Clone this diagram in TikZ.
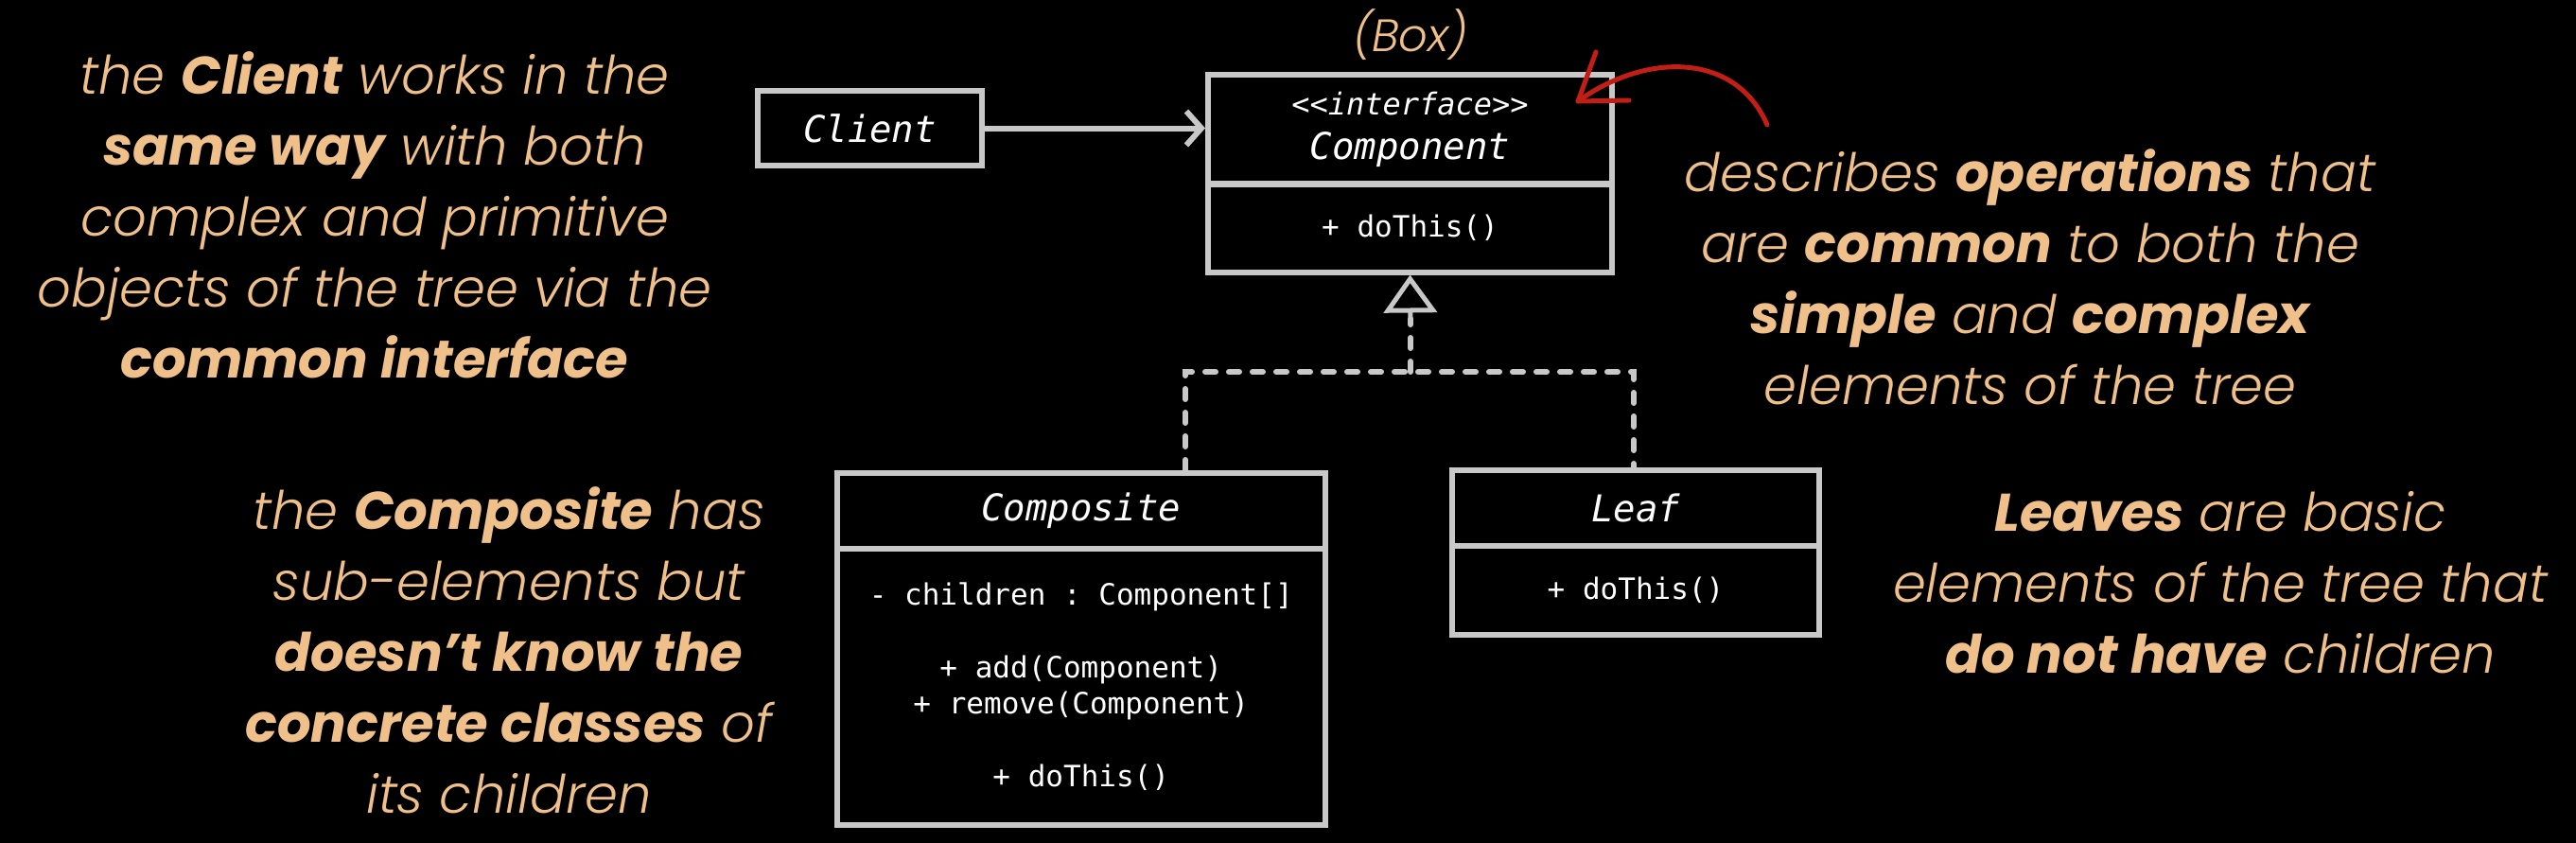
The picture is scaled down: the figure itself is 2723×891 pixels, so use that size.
\documentclass[tikz,border=0pt]{standalone}
\usepackage{fontspec}
\setmainfont{Poppins}[UprightFont={* Light}, ItalicFont={* Light Italic}, BoldFont={* Bold}, BoldItalicFont={* Bold Italic}]
\newfontfamily\codefont{DejaVu Sans Mono}[ItalicFont={DejaVu Sans Mono Oblique}]
\usetikzlibrary{arrows.meta}
\definecolor{note}{HTML}{F0C08A}
\definecolor{umlgray}{HTML}{C8C8C8}
\definecolor{redpen}{HTML}{C21E16}
\newcommand\nb[1]{{\bfseries #1}}
\begin{document}
\begin{tikzpicture}[x=1pt,y=-1pt,
  umlbox/.style={draw=umlgray, line width=6pt, inner sep=0pt, text=white, align=center},
  classname/.style={font=\codefont\itshape\fontsize{39}{47}\selectfont},
  member/.style={font=\codefont\frenchspacing\fontsize{31}{38.5}\selectfont},
  notetext/.style={text=note, align=center, font=\itshape\fontsize{56}{75}\selectfont},
  dashedline/.style={draw=umlgray, line width=6pt, dash pattern=on 11pt off 14pt, line cap=round},
  solidline/.style={draw=umlgray, line width=6pt},
  redline/.style={draw=redpen, line width=5pt, line cap=round, line join=round},
]
\fill[black] (0,0) rectangle (2723,891);
\useasboundingbox (0,0) rectangle (2723,891);

% classes
\node[umlbox, classname, minimum width=237pt, minimum height=79pt] (client) at (919.5,135.5) {Client};

\node[umlbox, classname, minimum width=427pt, minimum height=115pt] (comphead) at (1490.5,137)
  {{\fontsize{32}{47}\selectfont <<interface>>}\\Component};
\node[umlbox, member, minimum width=427pt, minimum height=94pt] (compbody) at (1490.5,240.5) {+ doThis()};

\node[umlbox, classname, minimum width=516.5pt, minimum height=80pt] (cmphead) at (1142.75,540) {Composite};
\node[umlbox, member, minimum width=516.5pt, minimum height=291.5pt] (cmpbody) at (1142.75,725.75)
  {- children : Component[]\\[38.5pt]+ add(Component)\\+ remove(Component)\\[38.5pt]+ doThis()};

\node[umlbox, classname, minimum width=388pt, minimum height=80pt] (leafhead) at (1729,537) {Leaf};
\node[umlbox, member, minimum width=388pt, minimum height=93.5pt] (leafbody) at (1729,623.75) {+ doThis()};

% association
\draw[solidline, -{Straight Barb[length=16pt,width=36pt]}] (client.east) -- (comphead.west |- client.east);

% realization
\coordinate (junc) at (1491,393);
\coordinate (tribase) at (1491,337);
\coordinate (cmptop) at (1253,497);
\coordinate (leaftop) at (1727,494);
\draw[dashedline] (cmptop) -- (cmptop |- junc) -- (leaftop |- junc) -- (leaftop);
\draw[dashedline] (junc) -- (tribase);
\draw[solidline, line width=5pt, -{Triangle[open, length=40pt, width=56pt]}] (tribase) -- (compbody.south);

% notes
\node[notetext, font=\itshape\fontsize{48}{56}\selectfont, anchor=base] (boxlabel) at (1491,55) {(Box)};
\node[notetext] (noteclient) at (396,227) {the \nb{Client} works in the\\ \nb{same way} with both\\ complex and primitive\\ objects of the tree via the\\ \nb{common interface}};
\node[notetext] (notecomp) at (2146,293) {describes \nb{operations} that\\ are \nb{common} to both the\\ \nb{simple} and \nb{complex}\\ elements of the tree};
\node[notetext] (noteleaf) at (2347,616) {\nb{Leaves} are basic\\ elements of the tree that\\ \nb{do not have} children};
\node[notetext] (notecmp) at (538,687) {the \nb{Composite} has\\ sub-elements but\\ \nb{doesn’t know the}\\ \nb{concrete classes} of\\ its children};

% red pointer
\coordinate (rs) at (1868,132);
\coordinate (rt) at (1668,107);
\coordinate (rb1) at (1687,55);
\coordinate (rb2) at (1722,106);
\draw[redline] (rs) .. controls (1835,55) and (1740,55) .. (rt);
\draw[redline] (rb1) -- (rt) -- (rb2);
\end{tikzpicture}
\end{document}
